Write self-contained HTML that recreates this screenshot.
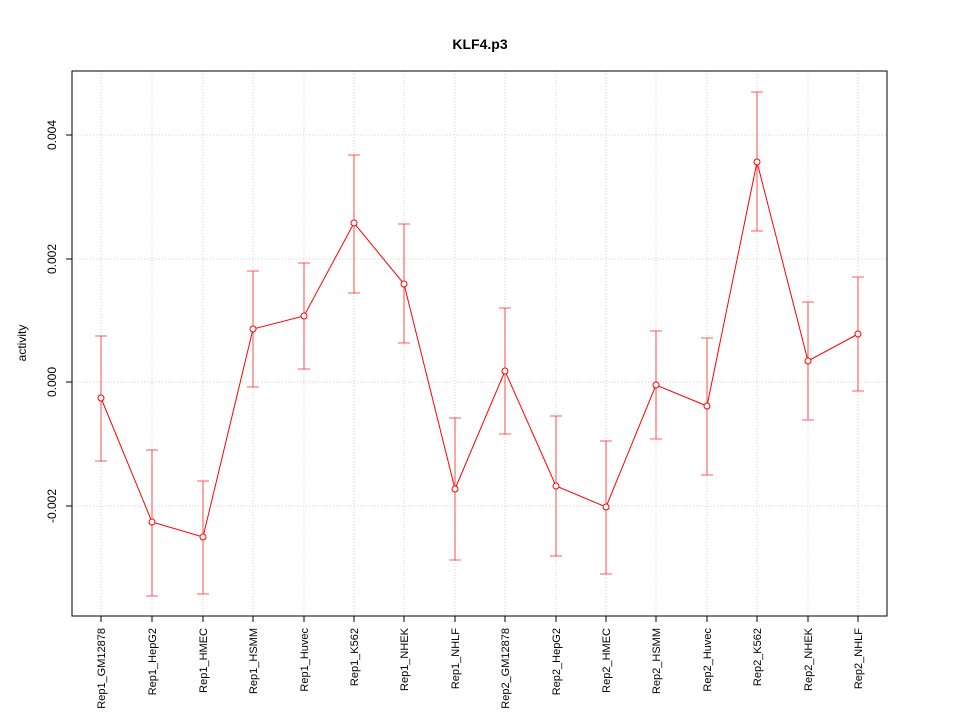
<!DOCTYPE html>
<html><head><style>body{margin:0;background:#fff}</style></head><body>
<svg width="960" height="720" xmlns="http://www.w3.org/2000/svg" font-family="Liberation Sans, sans-serif">
<rect width="960" height="720" fill="#fff"/>
<text x="480" y="49" text-anchor="middle" font-size="14" font-weight="bold">KLF4.p3</text>
<g stroke="#d0d0d0" stroke-dasharray="1,2" stroke-width="1">
<line x1="72" x2="887" y1="135" y2="135"/><line x1="72" x2="887" y1="259" y2="259"/><line x1="72" x2="887" y1="382" y2="382"/><line x1="72" x2="887" y1="506" y2="506"/>
<line x1="101" x2="101" y1="71" y2="616"/><line x1="152" x2="152" y1="71" y2="616"/><line x1="203" x2="203" y1="71" y2="616"/><line x1="253" x2="253" y1="71" y2="616"/><line x1="304" x2="304" y1="71" y2="616"/><line x1="354" x2="354" y1="71" y2="616"/><line x1="404" x2="404" y1="71" y2="616"/><line x1="455" x2="455" y1="71" y2="616"/><line x1="505" x2="505" y1="71" y2="616"/><line x1="556" x2="556" y1="71" y2="616"/><line x1="606" x2="606" y1="71" y2="616"/><line x1="656" x2="656" y1="71" y2="616"/><line x1="707" x2="707" y1="71" y2="616"/><line x1="757" x2="757" y1="71" y2="616"/><line x1="808" x2="808" y1="71" y2="616"/><line x1="858" x2="858" y1="71" y2="616"/>
</g>
<rect x="72" y="71" width="815" height="545" fill="none" stroke="#000"/>
<g stroke="#000"><line x1="72" x2="66" y1="135" y2="135"/><line x1="72" x2="66" y1="259" y2="259"/><line x1="72" x2="66" y1="382" y2="382"/><line x1="72" x2="66" y1="506" y2="506"/></g>
<g font-size="12" text-anchor="middle">
<text transform="translate(56,135) rotate(-90)">0.004</text>
<text transform="translate(56,259) rotate(-90)">0.002</text>
<text transform="translate(56,382) rotate(-90)">0.000</text>
<text transform="translate(56,506) rotate(-90)">-0.002</text>
<text transform="translate(26,343) rotate(-90)">activity</text>
</g>
<g stroke="red" fill="none" stroke-width="1">
<polyline points="101,398 152,522 203,537 253,329 304,316 354,223 404,284 455,489 505,371 556,486 606,507 656,385 707,406 757,162 808,361 858,334"/>
</g>
<g stroke="red" fill="none" stroke-width="0.8" opacity="0.85">
<path d="M101,336V461M95,336H107M95,461H107"/>
<path d="M152,450V596M146,450H158M146,596H158"/>
<path d="M203,481V594M197,481H209M197,594H209"/>
<path d="M253,271V387M247,271H259M247,387H259"/>
<path d="M304,263V369M298,263H310M298,369H310"/>
<path d="M354,155V293M348,155H360M348,293H360"/>
<path d="M404,224V343M398,224H410M398,343H410"/>
<path d="M455,418V560M449,418H461M449,560H461"/>
<path d="M505,308V434M499,308H511M499,434H511"/>
<path d="M556,416V556M550,416H562M550,556H562"/>
<path d="M606,441V574M600,441H612M600,574H612"/>
<path d="M656,331V439M650,331H662M650,439H662"/>
<path d="M707,338V475M701,338H713M701,475H713"/>
<path d="M757,92V231M751,92H763M751,231H763"/>
<path d="M808,302V420M802,302H814M802,420H814"/>
<path d="M858,277V391M852,277H864M852,391H864"/>
</g>
<g stroke="red" fill="#fff">
<circle cx="101" cy="398" r="3"/><circle cx="152" cy="522" r="3"/><circle cx="203" cy="537" r="3"/><circle cx="253" cy="329" r="3"/><circle cx="304" cy="316" r="3"/><circle cx="354" cy="223" r="3"/><circle cx="404" cy="284" r="3"/><circle cx="455" cy="489" r="3"/><circle cx="505" cy="371" r="3"/><circle cx="556" cy="486" r="3"/><circle cx="606" cy="507" r="3"/><circle cx="656" cy="385" r="3"/><circle cx="707" cy="406" r="3"/><circle cx="757" cy="162" r="3"/><circle cx="808" cy="361" r="3"/><circle cx="858" cy="334" r="3"/>
</g>
<g stroke="#000">
<line x1="101" x2="101" y1="616" y2="622"/><line x1="152" x2="152" y1="616" y2="622"/><line x1="203" x2="203" y1="616" y2="622"/><line x1="253" x2="253" y1="616" y2="622"/><line x1="304" x2="304" y1="616" y2="622"/><line x1="354" x2="354" y1="616" y2="622"/><line x1="404" x2="404" y1="616" y2="622"/><line x1="455" x2="455" y1="616" y2="622"/><line x1="505" x2="505" y1="616" y2="622"/><line x1="556" x2="556" y1="616" y2="622"/><line x1="606" x2="606" y1="616" y2="622"/><line x1="656" x2="656" y1="616" y2="622"/><line x1="707" x2="707" y1="616" y2="622"/><line x1="757" x2="757" y1="616" y2="622"/><line x1="808" x2="808" y1="616" y2="622"/><line x1="858" x2="858" y1="616" y2="622"/>
</g>
<g font-size="11" text-anchor="end">
<text transform="translate(105,628) rotate(-90)">Rep1_GM12878</text>
<text transform="translate(156,628) rotate(-90)">Rep1_HepG2</text>
<text transform="translate(207,628) rotate(-90)">Rep1_HMEC</text>
<text transform="translate(257,628) rotate(-90)">Rep1_HSMM</text>
<text transform="translate(308,628) rotate(-90)">Rep1_Huvec</text>
<text transform="translate(358,628) rotate(-90)">Rep1_K562</text>
<text transform="translate(408,628) rotate(-90)">Rep1_NHEK</text>
<text transform="translate(459,628) rotate(-90)">Rep1_NHLF</text>
<text transform="translate(509,628) rotate(-90)">Rep2_GM12878</text>
<text transform="translate(560,628) rotate(-90)">Rep2_HepG2</text>
<text transform="translate(610,628) rotate(-90)">Rep2_HMEC</text>
<text transform="translate(660,628) rotate(-90)">Rep2_HSMM</text>
<text transform="translate(711,628) rotate(-90)">Rep2_Huvec</text>
<text transform="translate(761,628) rotate(-90)">Rep2_K562</text>
<text transform="translate(812,628) rotate(-90)">Rep2_NHEK</text>
<text transform="translate(862,628) rotate(-90)">Rep2_NHLF</text>
</g>
</svg>
</body></html>
